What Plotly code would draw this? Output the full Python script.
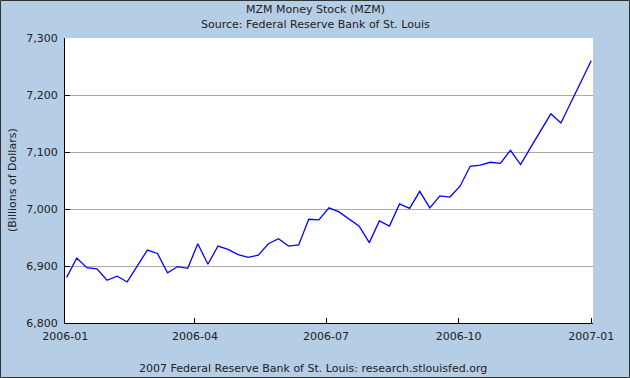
import pandas as pd
import plotly.graph_objects as go

dates = pd.date_range("2006-01-02", periods=53, freq="7D")
mzm = [6880, 6914, 6897, 6895, 6875, 6882, 6872, 6900, 6928, 6922,
       6888, 6899, 6896, 6939, 6903, 6935, 6929, 6920, 6915, 6919,
       6939, 6948, 6935, 6937, 6982, 6981, 7002, 6995, 6982, 6970,
       6941, 6979, 6970, 7009, 7001, 7031, 7002, 7023, 7021, 7040,
       7075, 7077, 7082, 7080, 7103, 7078, 7108, 7137, 7167, 7151,
       7187, 7223, 7260]
ytick_vals = [6800, 6900, 7000, 7100, 7200, 7300]
xtick_vals = ["2006-01-01", "2006-04-01", "2006-07-01", "2006-10-01", "2007-01-01"]
xtick_text = ["2006-01", "2006-04", "2006-07", "2006-10", "2007-01"]

W, H = 630, 378
L, R, T, B = 65, 37, 38, 55
pw, ph = W - L - R, H - T - B
BG = "#b5cde5"
FONT = "DejaVu Sans"

fig = go.Figure()
fig.add_trace(go.Scatter(x=dates, y=mzm, mode="lines",
                         line=dict(color="#0000ff", width=1.3), hoverinfo="x+y"))

fig.update_layout(
    width=W, height=H,
    margin=dict(l=L, r=R, t=T, b=B, pad=0),
    paper_bgcolor=BG, plot_bgcolor="white",
    showlegend=False,
    font=dict(family=FONT, size=11, color="#222"),
    xaxis=dict(range=["2005-12-31 20:00", "2007-01-02 06:00"],
               tickvals=xtick_vals, ticktext=xtick_text,
               ticks="inside", ticklen=5, tickcolor="black",
               showline=True, linecolor="black", linewidth=1,
               showgrid=False, zeroline=False, ticklabelstandoff=3),
    yaxis=dict(range=[6800, 7300], tickvals=ytick_vals, tickformat=",d",
               ticks="inside", ticklen=5, tickcolor="black",
               showline=True, linecolor="black", linewidth=1,
               showgrid=True, gridcolor="#aaaaaa", gridwidth=1,
               zeroline=False, ticklabelstandoff=4),
    annotations=[
        dict(text="MZM Money Stock (MZM)", xref="paper", yref="paper",
             x=(315 - L) / pw, y=1 + (T - 10) / ph, showarrow=False,
             xanchor="center", yanchor="middle", font=dict(size=11)),
        dict(text="Source: Federal Reserve Bank of St. Louis", xref="paper", yref="paper",
             x=(315 - L) / pw, y=1 + (T - 24) / ph, showarrow=False,
             xanchor="center", yanchor="middle", font=dict(size=11)),
        dict(text="2007 Federal Reserve Bank of St. Louis: research.stlouisfed.org",
             xref="paper", yref="paper",
             x=(313 - L) / pw, y=-(368 - T - ph) / ph, showarrow=False,
             xanchor="center", yanchor="middle", font=dict(size=11)),
        dict(text="(Billions of Dollars)", xref="paper", yref="paper",
             x=(12 - L) / pw, y=1 - (180 - T) / ph, showarrow=False,
             textangle=-90, xanchor="center", yanchor="middle", font=dict(size=11)),
    ],
    shapes=[dict(type="rect", xref="paper", yref="paper",
                 x0=(0.5 - L) / pw, x1=(W - 0.5 - L) / pw,
                 y0=-(H - 0.5 - T - ph) / ph, y1=1 + (T - 0.5) / ph,
                 line=dict(color="#333", width=1), layer="above")],
)

fig.write_html("out.html", config={"displayModeBar": False},
               post_script="document.body.style.margin='0';document.body.style.padding='0';")
